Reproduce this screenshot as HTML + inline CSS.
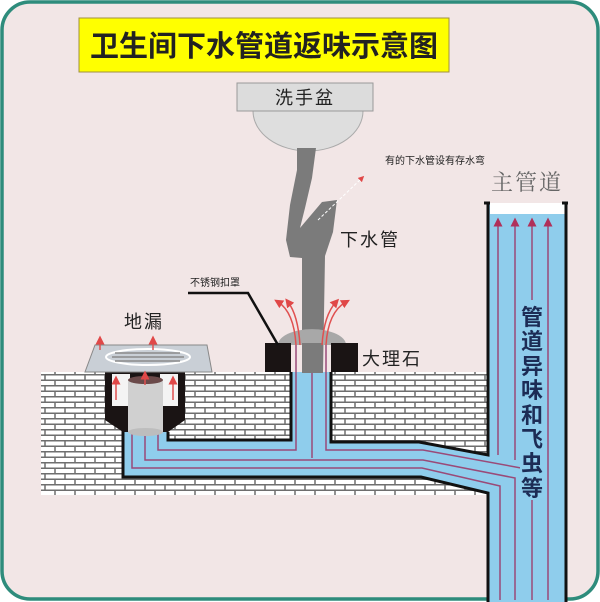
<!DOCTYPE html>
<html><head><meta charset="utf-8"><style>
html,body{margin:0;padding:0;background:#fff;}
svg{display:block;}
text{font-family:"Liberation Sans","Noto Sans CJK SC",sans-serif;}
</style></head><body>
<svg width="600" height="602" viewBox="0 0 600 602" xmlns="http://www.w3.org/2000/svg">
<defs>
<pattern id="brick" width="20" height="11" patternUnits="userSpaceOnUse">
<rect width="20" height="11" fill="#fff"/>
<path d="M0 0.75H20M0 6.25H20M5 0V5.5M15 5.5V11" stroke="#6e6e6e" stroke-width="1.5" fill="none"/>
</pattern>
<marker id="ah" markerWidth="6" markerHeight="6" refX="3" refY="3" orient="auto"><path d="M0,0L6,3L0,6z" fill="#b0305a"/></marker>
<marker id="ahr" markerWidth="6" markerHeight="6" refX="3" refY="3" orient="auto"><path d="M0,0L6,3L0,6z" fill="#e04848"/></marker>
</defs>
<rect x="2" y="2" width="596" height="597" rx="28" fill="#f2e6e6" stroke="#2e8c7c" stroke-width="3.5"/>
<!-- title -->
<rect x="79" y="18" width="370" height="54" fill="#ffff00" stroke="#a09040" stroke-width="1"/>
<text x="264" y="56" text-anchor="middle" font-size="29" font-weight="bold" fill="#222">卫生间下水管道返味示意图</text>
<!-- basin -->
<path d="M253 111 A55 40 0 0 0 363 111 Z" fill="#dedede" stroke="#aaa"/>
<rect x="237" y="83" width="136" height="28" fill="#dcdcdc" stroke="#999"/>
<text x="305" y="104" text-anchor="middle" font-size="18" fill="#222" letter-spacing="2">洗手盆</text>
<!-- pipe trap -->
<path d="M297 148 L316 148 L312 178 L305 208 L300 228 L322 202 L337 200 L333 232 L325 256 L323 372 L302 372 L302 258 L290 257 L286 240 L290 205 L297 170 Z" fill="#7b7b7b"/>
<line x1="318" y1="220" x2="362" y2="178" stroke="#fff" stroke-width="1" stroke-dasharray="3 2" marker-end="url(#ahr)"/>
<text x="385" y="164" font-size="10" fill="#222">有的下水管设有存水弯</text>
<text x="340" y="246" font-size="18" fill="#222" letter-spacing="2">下水管</text>
<!-- bricks -->
<rect x="41" y="372" width="447" height="123" fill="url(#brick)"/>
<!-- blue pipes -->
<path d="M123 430 L123 477 L421 477 L488 493 L488 602 L566 602 L566 203 L488 203 L488 455 L419 442 L331 442 L331 372 L291 372 L291 440 L168 440 L168 430 Z" fill="#8fcdec"/>
<rect x="490" y="203" width="75" height="11" fill="#fff"/>
<path d="M123 430 L123 477 L421 477 L488 493 L488 602" fill="none" stroke="#111" stroke-width="3"/>
<path d="M168 432 L168 440 L291 440 L291 372" fill="none" stroke="#111" stroke-width="3"/>
<path d="M331 372 L331 442 L419 442 L488 455 L488 203 M484 203 L490 203" fill="none" stroke="#111" stroke-width="3"/>
<path d="M566 203 L566 602 M562 203 L568 203" fill="none" stroke="#111" stroke-width="3"/>
<!-- flow lines -->
<g fill="none" stroke="#9a4a78" stroke-width="1.5">
<path d="M132 430 L132 468 L422 468 L500 486 L500 600"/>
<path d="M145 430 L145 460 L423 460 L515 478 L515 600"/>
<path d="M158 430 L158 450 L296 450 L296 335"/>
<path d="M326 335 L326 450 L423 450 L532 470"/>
<path d="M312 372 L312 458"/>
<path d="M548 600 L548 222" marker-end="url(#ah)"/>
<path d="M498 455 L498 222" marker-end="url(#ah)"/>
<path d="M515 460 L515 222" marker-end="url(#ah)"/>
<path d="M532 300 L532 222" marker-end="url(#ah)"/>
<path d="M532 500 L532 600"/>
</g>
<!-- marble -->
<path d="M278 345 A30 14 0 0 1 346 345 Z" fill="#a8a8a8"/>
<rect x="265" y="343" width="26" height="29" fill="#1a1414"/>
<rect x="331" y="343" width="27" height="29" fill="#1a1414"/>
<rect x="302" y="343" width="21" height="30" fill="#7b7b7b"/>
<g fill="none" stroke="#e05050" stroke-width="1.5">
<path d="M296 345 Q294 312 278 302" marker-end="url(#ahr)"/>
<path d="M300 345 Q298 315 288 302" marker-end="url(#ahr)"/>
<path d="M326 345 Q328 312 346 302" marker-end="url(#ahr)"/>
<path d="M322 345 Q324 315 336 302" marker-end="url(#ahr)"/>
</g>
<path d="M188 293 L248 293 L278 345" fill="none" stroke="#111" stroke-width="2.5"/>
<text x="190" y="286" font-size="10" fill="#222">不锈钢扣罩</text>
<text x="362" y="365" font-size="18" fill="#222" letter-spacing="2">大理石</text>
<!-- floor drain -->
<path d="M105 372 L185 372 L185 420 L168 432 L123 432 L105 420 Z" fill="#1a1414"/>
<rect x="112" y="374" width="18" height="32" fill="#f4f4f4"/>
<rect x="160" y="374" width="18" height="32" fill="#f4f4f4"/>
<rect x="128" y="380" width="35" height="52" fill="#d0d0d0"/>
<ellipse cx="145.5" cy="432" rx="17.5" ry="4" fill="#bdbdbd"/>
<ellipse cx="145.5" cy="380" rx="17.5" ry="4" fill="#6b4a4a"/>
<path d="M95 345 L207 345 L212 372 L85 372 Z" fill="#c9cfd6" stroke="#888"/>
<ellipse cx="148" cy="357" rx="42" ry="8" fill="none" stroke="#fff" stroke-width="2"/>
<path d="M115 353H180M112 357H184M115 361H180" stroke="#8a8a8a" stroke-width="1.5"/>
<g stroke="#e05050" stroke-width="1.5" fill="none">
<path d="M116 400 L116 380" marker-end="url(#ahr)"/>
<path d="M173 400 L173 380" marker-end="url(#ahr)"/>
<path d="M145 385 L145 375" marker-end="url(#ahr)"/>
<path d="M100 350 L100 340" marker-end="url(#ahr)"/>
<path d="M153 350 L153 340" marker-end="url(#ahr)"/>
</g>
<text x="124" y="328" font-size="18" fill="#222" letter-spacing="2">地漏</text>
<!-- main pipe label -->
<text x="527" y="190" text-anchor="middle" font-size="22" fill="#666" style="font-family:'Liberation Serif','Noto Serif CJK SC',serif" letter-spacing="2">主管道</text>
<rect x="520" y="302" width="24" height="196" fill="#8fcdec"/>
<g font-size="22" font-weight="bold" fill="#1c2c55" text-anchor="middle">
<text x="532" y="325">管</text><text x="532" y="349">道</text><text x="532" y="374">异</text><text x="532" y="398">味</text><text x="532" y="423">和</text><text x="532" y="447">飞</text><text x="532" y="471">虫</text><text x="532" y="496">等</text>
</g>
</svg>
</body></html>
